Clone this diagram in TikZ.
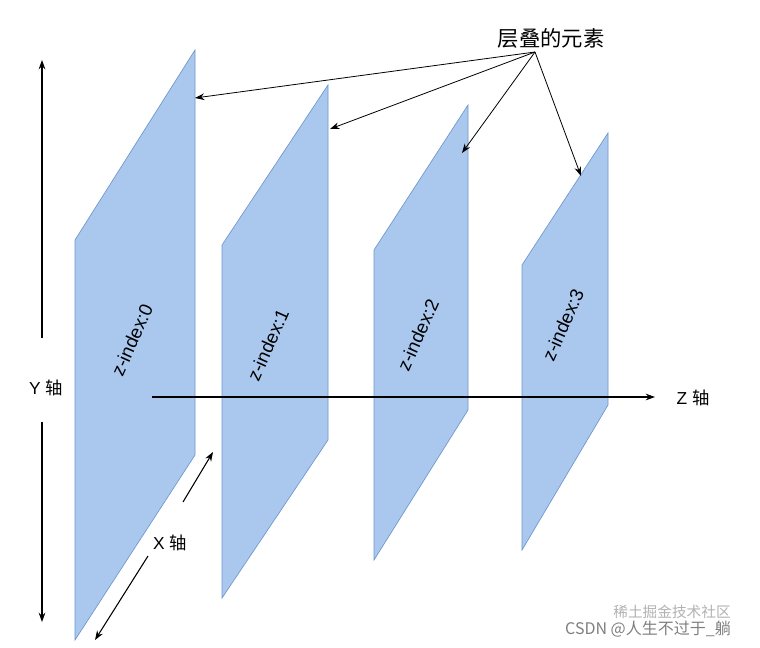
\documentclass[tikz,border=0pt]{standalone}
\usepackage{fontspec}
\setmainfont{Liberation Sans}
\newfontfamily\cjk{Noto Sans CJK SC}
\usetikzlibrary{arrows.meta}
\begin{document}
\begin{tikzpicture}[x=0.75pt,y=-0.75pt,
  plane/.style={fill={rgb,255:red,170;green,200;blue,238}, draw={rgb,255:red,110;green,150;blue,205}, line width=0.5pt},
  ax/.style={-{Stealth[length=7pt,width=5pt]}, line width=0.8pt},
  lbl/.style={font=\fontsize{13}{15}\selectfont},
  zl/.style={font=\fontsize{14}{16}\selectfont, rotate=66}]
\useasboundingbox (0,0) rectangle (760,647);
\fill[white] (0,0) rectangle (760,647);
\draw[plane] (75,640) -- (75,240) -- (195,50) -- (195,455) -- cycle;
\draw[plane] (222,598) -- (222,245) -- (328,85) -- (328,440) -- cycle;
\draw[plane] (374,560) -- (374,250) -- (468,105) -- (468,410) -- cycle;
\draw[plane] (522,550) -- (522,265) -- (608,133) -- (608,405) -- cycle;
\node[zl] (z0) at (132,340) {z-index:0};
\node[zl] (z1) at (268,345) {z-index:1};
\node[zl] (z2) at (418,335) {z-index:2};
\node[zl] (z3) at (563,325) {z-index:3};
% Z axis
\coordinate (zs) at (152,397);
\coordinate (ze) at (655,397);
\draw[ax] (zs) -- (ze);
\node[lbl,anchor=west] (zlab) at (672,398) {Z {\cjk 轴}};
% Y axis
\coordinate (yt) at (42,60);
\coordinate (yb) at (42,622);
\node[lbl] (ylab) at (46,388) {Y {\cjk 轴}};
\draw[line width=0.8pt,{Stealth[length=7pt,width=5pt]}-] (yt) -- (42,338);
\draw[line width=0.8pt,-{Stealth[length=7pt,width=5pt]}] (42,422) -- (yb);
% X axis
\coordinate (xb) at (95,640);
\coordinate (xt) at (213,452);
\node[lbl] (xlab) at (170,543) {X {\cjk 轴}};
\draw[line width=0.8pt,{Stealth[length=7pt,width=5pt]}-] (xb) -- (148,556);
\draw[line width=0.8pt,-{Stealth[length=7pt,width=5pt]}] (183,502) -- (xt);
% labels
\node[lbl,font=\cjk\fontsize{16}{18}\selectfont] (stack) at (551,38) {层叠的元素};
\coordinate (src) at (535,52);
\draw[ax,line width=0.6pt] (src) -- (195,98);
\draw[ax,line width=0.6pt] (src) -- (330,129);
\draw[ax,line width=0.6pt] (src) -- (462,153);
\draw[ax,line width=0.6pt] (src) -- (581,176);
\node[text=gray!60,font=\cjk\fontsize{11}{13}\selectfont] (wm1) at (672,612) {稀土掘金技术社区};
\node[text=gray,font=\cjk\fontsize{12}{14}\selectfont] (wm2) at (648,629) {CSDN @人生不过于\_躺};
\end{tikzpicture}
\end{document}
